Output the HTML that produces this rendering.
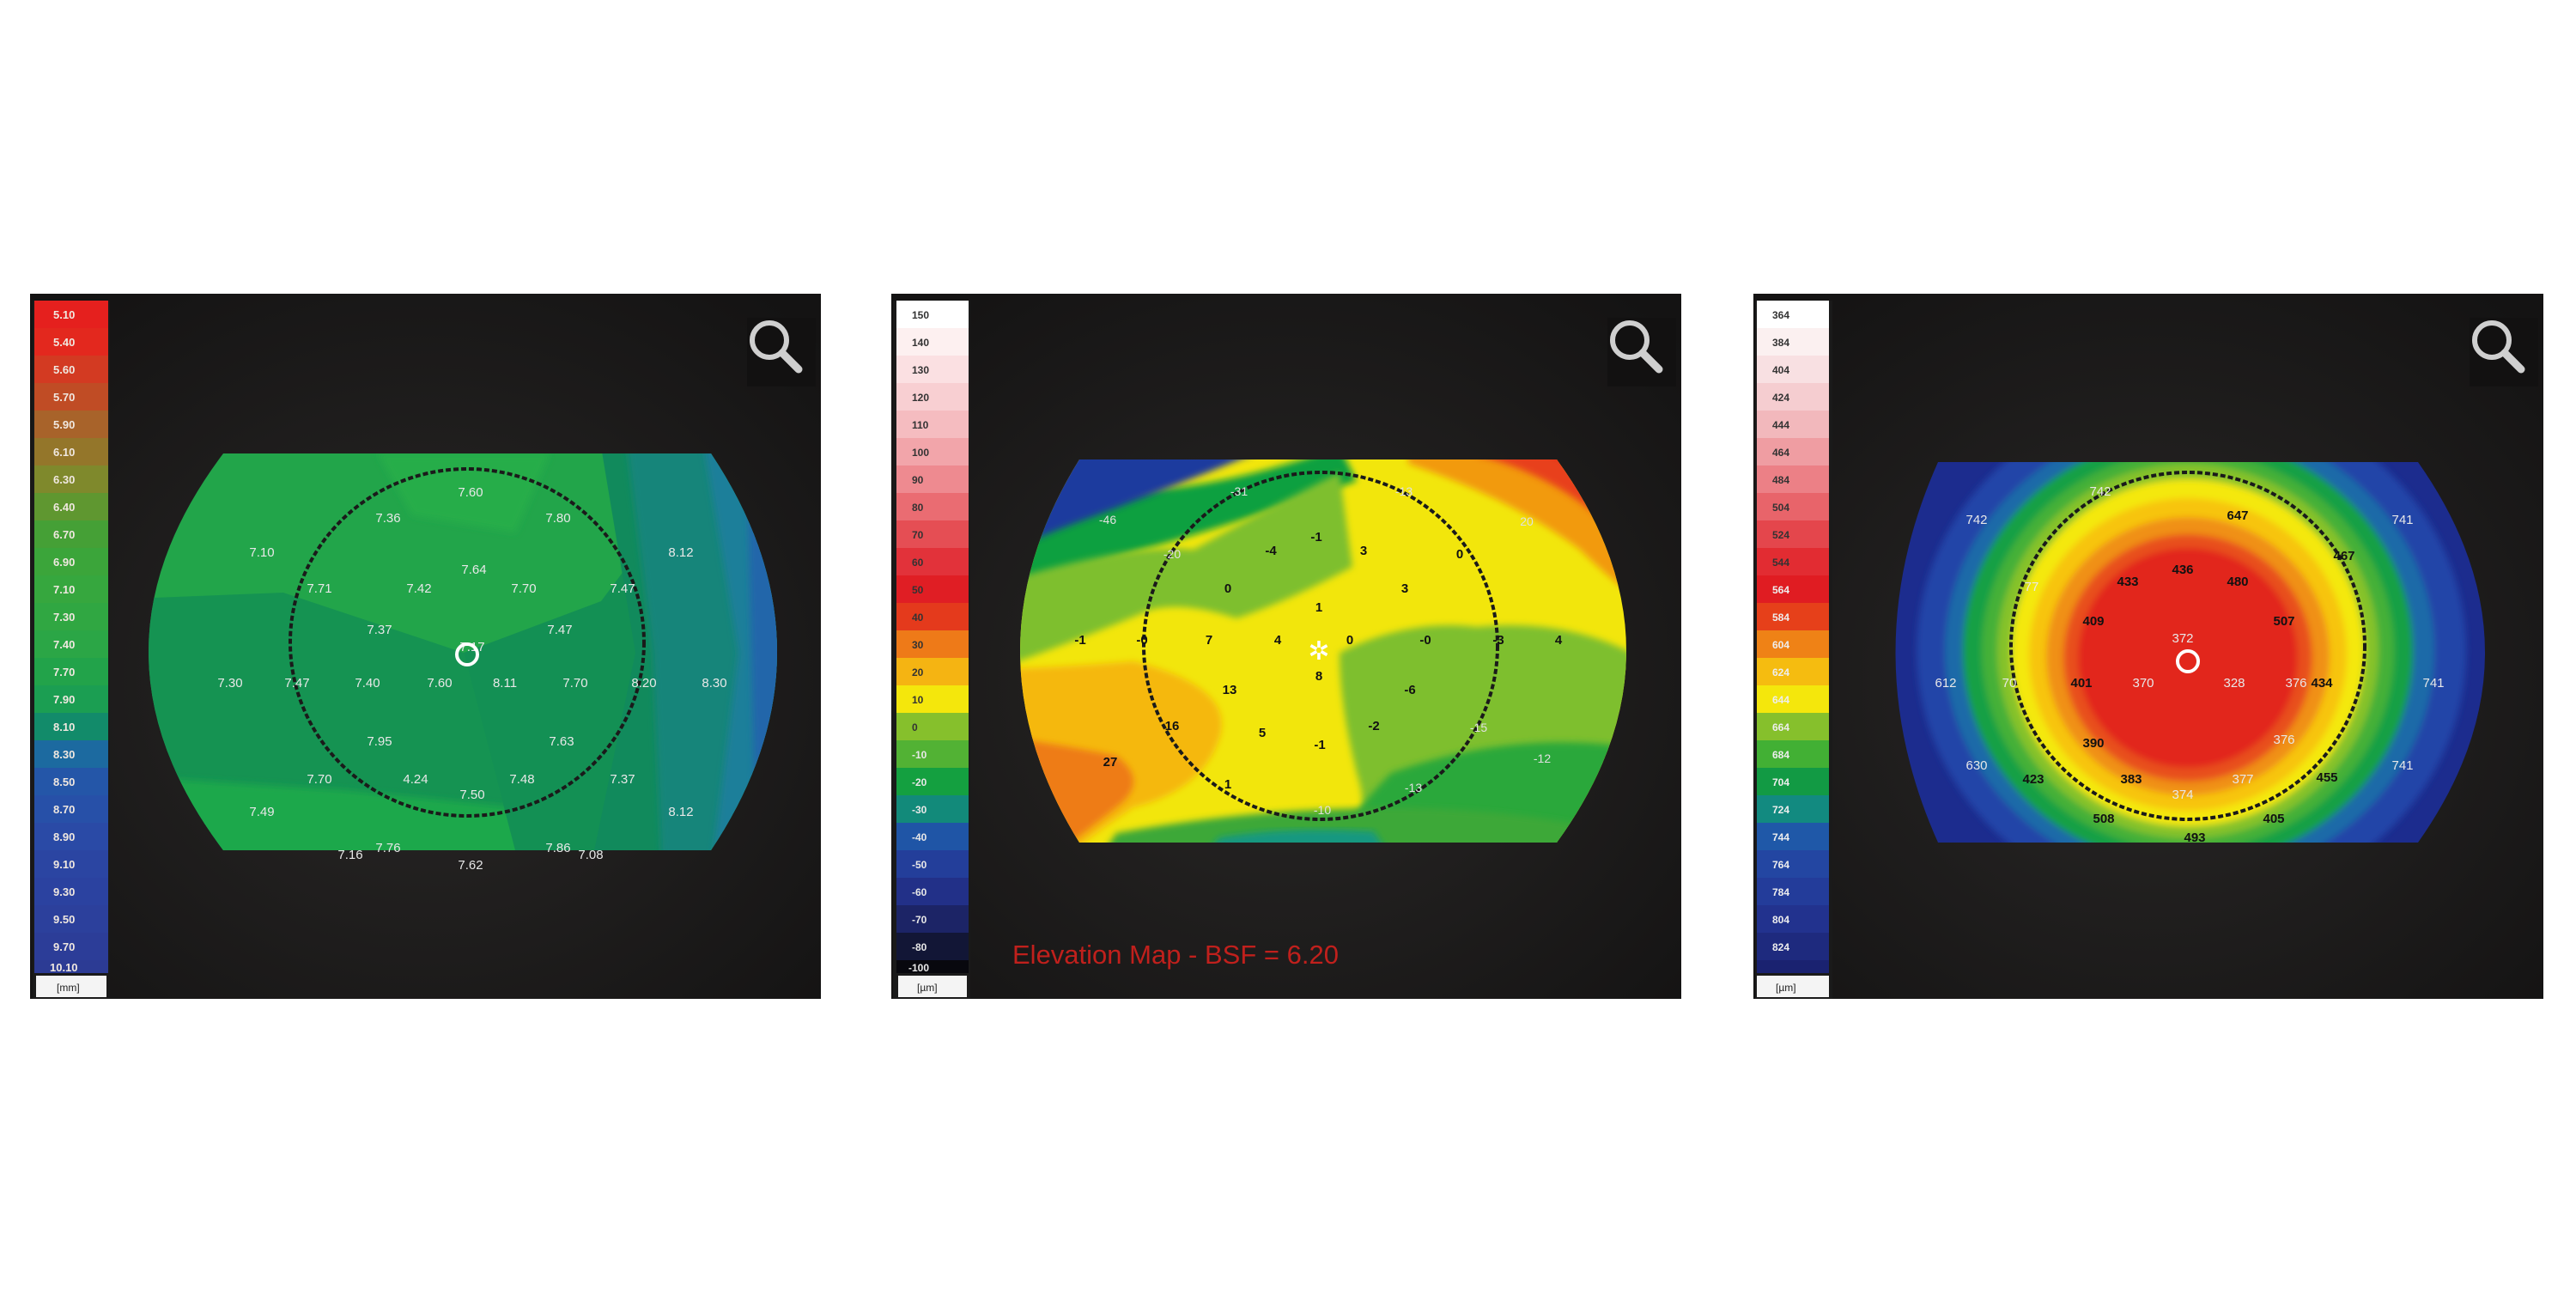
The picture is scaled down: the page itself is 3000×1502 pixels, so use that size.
<!DOCTYPE html>
<html><head><meta charset="utf-8"><style>html,body{margin:0;padding:0;background:#fff}svg{display:block}</style></head><body>
<svg width="3000" height="1502" viewBox="0 0 3000 1502" xmlns="http://www.w3.org/2000/svg" font-family="Liberation Sans, sans-serif">
<defs>
<radialGradient id="bg" cx="50%" cy="55%" r="70%"><stop offset="0" stop-color="#2a2827"/><stop offset="1" stop-color="#141313"/></radialGradient>
<clipPath id="m1"><path d="M260,528 L828,528 Q982,759 828,990 L260,990 Q86,759 260,528 Z"/></clipPath>
<clipPath id="m2"><path d="M1257,535 L1813,535 Q1975,758 1813,981 L1257,981 Q1119,758 1257,535 Z"/></clipPath>
<clipPath id="m3"><path d="M2257,538 L2816,538 Q2972,760 2816,981 L2257,981 Q2158,760 2257,538 Z"/></clipPath>
<filter id="bl"><feGaussianBlur stdDeviation="10"/></filter>
<filter id="bl2"><feGaussianBlur stdDeviation="4"/></filter>
<g id="mag"><circle cx="-8" cy="-8" r="20" fill="none" stroke="#cfcfcf" stroke-width="6"/><line x1="7" y1="7" x2="26" y2="26" stroke="#cfcfcf" stroke-width="9" stroke-linecap="round"/></g>
</defs>

<!-- Panel 1 -->
<rect x="35" y="342" width="921" height="821" fill="url(#bg)"/>
<g clip-path="url(#m1)">
<rect x="80" y="520" width="920" height="480" fill="#22a54a"/>
<path d="M80,700 L330,690 L540,760 L600,990 L80,1000 Z" fill="#159352"/>
<path d="M80,900 L400,920 L600,940 L620,1000 L80,1000Z" fill="#1ea84b" filter="url(#bl2)"/>
<path d="M540,760 L700,700 L760,620 L720,990 L600,990 Z" fill="#139054"/>
<path d="M700,520 L900,520 L900,1000 L690,1000 L740,760 Z" fill="#118a5c"/>
<path d="M730,520 L1000,520 L1000,1000 L770,1000 L760,760 Z" fill="#13857a" filter="url(#bl2)"/>
<path d="M820,520 L1000,520 L1000,1000 L830,1000 L860,760 Z" fill="#1a7f9a" filter="url(#bl2)"/>
<path d="M870,520 L1000,520 L1000,1000 L880,1000 Z" fill="#2266aa" filter="url(#bl2)"/>
<path d="M440,528 L640,528 L600,620 L480,600 Z" fill="#27ad4a" filter="url(#bl2)"/>
</g>
<ellipse cx="544" cy="748" rx="206" ry="202" fill="none" stroke="#1a1a1a" stroke-width="4" stroke-dasharray="6,3"/>
<g fill="#e8e8e8" font-size="15" text-anchor="middle">
<text x="548" y="578">7.60</text><text x="452" y="608">7.36</text><text x="650" y="608">7.80</text>
<text x="305" y="648">7.10</text><text x="793" y="648">8.12</text>
<text x="552" y="668">7.64</text><text x="372" y="690">7.71</text><text x="488" y="690">7.42</text><text x="610" y="690">7.70</text><text x="725" y="690">7.47</text>
<text x="442" y="738">7.37</text><text x="652" y="738">7.47</text><text x="550" y="758">7.17</text>
<text x="268" y="800">7.30</text><text x="346" y="800">7.47</text><text x="428" y="800">7.40</text><text x="512" y="800">7.60</text><text x="588" y="800">8.11</text><text x="670" y="800">7.70</text><text x="750" y="800">8.20</text><text x="832" y="800">8.30</text>
<text x="442" y="868">7.95</text><text x="654" y="868">7.63</text>
<text x="372" y="912">7.70</text><text x="484" y="912">4.24</text><text x="608" y="912">7.48</text><text x="725" y="912">7.37</text><text x="550" y="930">7.50</text>
<text x="305" y="950">7.49</text><text x="793" y="950">8.12</text>
<text x="452" y="992">7.76</text><text x="650" y="992">7.86</text><text x="548" y="1012">7.62</text>
<text x="408" y="1000">7.16</text><text x="688" y="1000">7.08</text>
</g>
<circle cx="544" cy="762" r="12" fill="none" stroke="#fff" stroke-width="4"/>
<rect x="38" y="350" width="90" height="813" fill="#1a1a1a"/>
<g id="cb1">
<rect x="40" y="350" width="86" height="32" fill="#e5201e"/><rect x="40" y="382" width="86" height="32" fill="#e3281e"/><rect x="40" y="414" width="86" height="32" fill="#d33a22"/><rect x="40" y="446" width="86" height="32" fill="#c04c25"/><rect x="40" y="478" width="86" height="32" fill="#a8632a"/><rect x="40" y="510" width="86" height="32" fill="#94762a"/><rect x="40" y="542" width="86" height="32" fill="#7f892c"/><rect x="40" y="574" width="86" height="32" fill="#5f9730"/><rect x="40" y="606" width="86" height="32" fill="#45a036"/><rect x="40" y="638" width="86" height="32" fill="#3ba53a"/><rect x="40" y="670" width="86" height="32" fill="#36a73e"/><rect x="40" y="702" width="86" height="32" fill="#30a742"/><rect x="40" y="734" width="86" height="32" fill="#2ba646"/><rect x="40" y="766" width="86" height="32" fill="#22a34a"/><rect x="40" y="798" width="86" height="32" fill="#1b9e52"/><rect x="40" y="830" width="86" height="32" fill="#128b6a"/><rect x="40" y="862" width="86" height="32" fill="#1c6aa0"/><rect x="40" y="894" width="86" height="32" fill="#2456a8"/><rect x="40" y="926" width="86" height="32" fill="#2750a8"/><rect x="40" y="958" width="86" height="32" fill="#2a4aa6"/><rect x="40" y="990" width="86" height="32" fill="#2b45a2"/><rect x="40" y="1022" width="86" height="32" fill="#2b42a0"/><rect x="40" y="1054" width="86" height="32" fill="#2c409c"/><rect x="40" y="1086" width="86" height="32" fill="#2c3d98"/><rect x="40" y="1118" width="86" height="15" fill="#2c3b94"/>
<rect x="42" y="1136" width="82" height="25" fill="#f4f4f4"/>
</g>
<g fill="#f0e8e0" font-size="13" font-weight="bold">
<text x="62" y="371">5.10</text><text x="62" y="403">5.40</text><text x="62" y="435">5.60</text><text x="62" y="467">5.70</text><text x="62" y="499">5.90</text><text x="62" y="531">6.10</text><text x="62" y="563">6.30</text><text x="62" y="595">6.40</text><text x="62" y="627">6.70</text><text x="62" y="659">6.90</text><text x="62" y="691">7.10</text><text x="62" y="723">7.30</text><text x="62" y="755">7.40</text><text x="62" y="787">7.70</text><text x="62" y="819">7.90</text><text x="62" y="851">8.10</text><text x="62" y="883">8.30</text><text x="62" y="915">8.50</text><text x="62" y="947">8.70</text><text x="62" y="979">8.90</text><text x="62" y="1011">9.10</text><text x="62" y="1043">9.30</text><text x="62" y="1075">9.50</text><text x="62" y="1107">9.70</text><text x="58" y="1131">10.10</text>
</g>
<text x="66" y="1154" font-size="12" fill="#222">[mm]</text>
<rect x="870" y="370" width="80" height="80" fill="#121111"/>
<use href="#mag" x="904" y="404"/>

<!-- Panel 2 -->
<rect x="1038" y="342" width="920" height="821" fill="url(#bg)"/>
<g clip-path="url(#m2)">
<rect x="1100" y="520" width="900" height="480" fill="#f2e60c"/>
<path d="M1100,620 Q1260,580 1350,570 Q1450,560 1560,520 L1580,560 Q1440,610 1330,640 Q1200,680 1100,740 Z" fill="#0aa040" filter="url(#bl2)"/>
<path d="M1100,520 L1480,520 Q1360,570 1250,610 Q1170,640 1100,680 Z" fill="#1e3a9e" filter="url(#bl2)"/>
<path d="M1100,700 Q1300,630 1390,640 Q1480,590 1560,550 L1575,660 Q1500,700 1440,720 Q1380,700 1340,710 Q1220,760 1100,800 Z" fill="#7ebf2e" filter="url(#bl2)"/>
<path d="M1640,520 L2000,520 L2000,760 Q1900,700 1840,640 Q1760,580 1640,540 Z" fill="#f29a10" filter="url(#bl2)"/>
<path d="M1720,520 L2000,520 L2000,720 Q1920,650 1860,600 Q1800,550 1720,530 Z" fill="#e8401a" filter="url(#bl2)"/>
<path d="M1790,520 L2000,520 L2000,680 Q1920,600 1850,550 Z" fill="#e0161c" filter="url(#bl2)"/>
<path d="M1890,530 L2000,530 L2000,600 Q1950,560 1890,540Z" fill="#f0b0b6" filter="url(#bl2)"/>
<path d="M1560,760 Q1640,720 1720,730 Q1820,720 1900,760 L2000,820 L2000,1000 L1560,1000 Q1600,960 1580,900 Q1560,820 1560,760 Z" fill="#7ebf2e" filter="url(#bl2)"/>
<path d="M1620,900 Q1760,850 1900,870 L2000,900 L2000,1000 L1560,1000 Q1560,960 1620,900Z" fill="#2aa83a" filter="url(#bl2)"/>
<path d="M1860,930 L2000,900 L2000,1000 L1880,1000Z" fill="#f2e60c" filter="url(#bl2)"/>
<path d="M1100,780 Q1200,780 1320,770 Q1440,800 1420,860 Q1400,920 1320,940 Q1260,980 1240,1000 L1100,1000 Z" fill="#f5b80e" filter="url(#bl2)"/>
<path d="M1100,850 Q1200,860 1300,880 Q1340,910 1300,940 Q1250,980 1220,1000 L1100,1000 Z" fill="#ee7b18" filter="url(#bl2)"/>
<path d="M1100,880 Q1170,900 1210,930 Q1240,960 1230,1000 L1100,1000 Z" fill="#e0241c" filter="url(#bl2)"/>
<path d="M1300,970 Q1440,945 1560,942 Q1700,935 1840,960 L1880,1000 L1280,1000 Z" fill="#3da838" filter="url(#bl2)"/>
<path d="M1420,975 Q1500,962 1600,968 L1620,1000 L1400,1000Z" fill="#129880" filter="url(#bl2)"/>
</g>
<ellipse cx="1538" cy="752" rx="206" ry="202" fill="none" stroke="#1a1a1a" stroke-width="4" stroke-dasharray="6,3"/>
<g fill="#111" font-size="15" font-weight="bold" text-anchor="middle">
<text x="1480" y="646">-4</text><text x="1533" y="630">-1</text><text x="1588" y="646">3</text><text x="1700" y="650">0</text>
<text x="1430" y="690">0</text><text x="1636" y="690">3</text><text x="1536" y="712">1</text>
<text x="1258" y="750">-1</text><text x="1330" y="750">-0</text><text x="1408" y="750">7</text><text x="1488" y="750">4</text><text x="1572" y="750">0</text><text x="1660" y="750">-0</text><text x="1745" y="750">-3</text><text x="1815" y="750">4</text>
<text x="1432" y="808">13</text><text x="1642" y="808">-6</text><text x="1536" y="792">8</text>
<text x="1365" y="850">16</text><text x="1470" y="858">5</text><text x="1537" y="872">-1</text><text x="1600" y="850">-2</text>
<text x="1293" y="892">27</text><text x="1430" y="918">1</text>
</g>
<g fill="#e0e0e0" font-size="14" text-anchor="middle">
<text x="1443" y="577">-31</text><text x="1635" y="577">-13</text><text x="1290" y="610">-46</text><text x="1778" y="612">20</text><text x="1365" y="650">-20</text><text x="1722" y="852">-15</text><text x="1796" y="888">-12</text><text x="1646" y="922">-13</text><text x="1540" y="948">-10</text>
</g>
<text x="1536" y="768" font-size="30" fill="#fff" text-anchor="middle">✲</text>
<text x="1179" y="1122" font-size="31" fill="#c0201c">Elevation Map - BSF = 6.20</text>
<rect x="1040" y="350" width="90" height="813" fill="#1a1a1a"/>
<g>
<rect x="1044" y="350" width="84" height="32" fill="#ffffff"/><rect x="1044" y="382" width="84" height="32" fill="#fdf0f0"/><rect x="1044" y="414" width="84" height="32" fill="#fbe0e2"/><rect x="1044" y="446" width="84" height="32" fill="#f8cfd2"/><rect x="1044" y="478" width="84" height="32" fill="#f5bcc0"/><rect x="1044" y="510" width="84" height="32" fill="#f2a5aa"/><rect x="1044" y="542" width="84" height="32" fill="#ee8a90"/><rect x="1044" y="574" width="84" height="32" fill="#ea6c72"/><rect x="1044" y="606" width="84" height="32" fill="#e54e54"/><rect x="1044" y="638" width="84" height="32" fill="#e2323a"/><rect x="1044" y="670" width="84" height="32" fill="#e01e24"/><rect x="1044" y="702" width="84" height="32" fill="#e43a1c"/><rect x="1044" y="734" width="84" height="32" fill="#ee7a18"/><rect x="1044" y="766" width="84" height="32" fill="#f5b412"/><rect x="1044" y="798" width="84" height="32" fill="#f4e70c"/><rect x="1044" y="830" width="84" height="32" fill="#86c02c"/><rect x="1044" y="862" width="84" height="32" fill="#52b234"/><rect x="1044" y="894" width="84" height="32" fill="#14a040"/><rect x="1044" y="926" width="84" height="32" fill="#128a7a"/><rect x="1044" y="958" width="84" height="32" fill="#1f55a6"/><rect x="1044" y="990" width="84" height="32" fill="#233e9a"/><rect x="1044" y="1022" width="84" height="32" fill="#223088"/><rect x="1044" y="1054" width="84" height="32" fill="#1c2466"/><rect x="1044" y="1086" width="84" height="32" fill="#121636"/><rect x="1044" y="1118" width="84" height="15" fill="#08080e"/>
<rect x="1046" y="1136" width="80" height="25" fill="#f4f4f4"/>
</g>
<g fill="#333" font-size="12" font-weight="bold">
<text x="1062" y="371">150</text><text x="1062" y="403">140</text><text x="1062" y="435">130</text><text x="1062" y="467">120</text><text x="1062" y="499">110</text><text x="1062" y="531">100</text><text x="1062" y="563">90</text><text x="1062" y="595">80</text><text x="1062" y="627">70</text><text x="1062" y="659">60</text><text x="1062" y="691">50</text><text x="1062" y="723">40</text><text x="1062" y="755">30</text><text x="1062" y="787">20</text><text x="1062" y="819">10</text><text x="1062" y="851">0</text>
</g>
<g fill="#e8e8e8" font-size="12" font-weight="bold">
<text x="1062" y="883">-10</text><text x="1062" y="915">-20</text><text x="1062" y="947">-30</text><text x="1062" y="979">-40</text><text x="1062" y="1011">-50</text><text x="1062" y="1043">-60</text><text x="1062" y="1075">-70</text><text x="1062" y="1107">-80</text><text x="1058" y="1131">-100</text>
</g>
<text x="1068" y="1154" font-size="12" fill="#222">[µm]</text>
<rect x="1872" y="370" width="80" height="80" fill="#121111"/>
<use href="#mag" x="1906" y="404"/>

<!-- Panel 3 -->
<rect x="2042" y="342" width="920" height="821" fill="url(#bg)"/>
<g clip-path="url(#m3)">
<rect x="2150" y="520" width="830" height="480" fill="#1c2c8e"/>
<g filter="url(#bl2)">
<ellipse cx="2552" cy="758" rx="320" ry="300" fill="#2344a8"/>
<ellipse cx="2550" cy="758" rx="285" ry="268" fill="#1a6aa8"/>
<ellipse cx="2548" cy="758" rx="262" ry="250" fill="#14a044"/>
<ellipse cx="2548" cy="758" rx="240" ry="232" fill="#44b038"/>
<ellipse cx="2548" cy="758" rx="222" ry="218" fill="#86c22c"/>
<ellipse cx="2548" cy="760" rx="205" ry="202" fill="#f4e80c"/>
<ellipse cx="2548" cy="762" rx="185" ry="182" fill="#f7c410"/>
<ellipse cx="2548" cy="764" rx="165" ry="162" fill="#f09014"/>
<ellipse cx="2548" cy="766" rx="145" ry="144" fill="#e8501a"/>
<ellipse cx="2548" cy="766" rx="128" ry="128" fill="#e2261e"/>
</g>
</g>
<ellipse cx="2548" cy="752" rx="206" ry="202" fill="none" stroke="#1a1a1a" stroke-width="4" stroke-dasharray="6,3"/>
<g fill="#111" font-size="15" font-weight="bold" text-anchor="middle">
<text x="2606" y="605">647</text><text x="2542" y="668">436</text><text x="2478" y="682">433</text><text x="2606" y="682">480</text><text x="2730" y="652">467</text>
<text x="2438" y="728">409</text><text x="2660" y="728">507</text><text x="2424" y="800">401</text><text x="2704" y="800">434</text>
<text x="2438" y="870">390</text><text x="2482" y="912">383</text><text x="2368" y="912">423</text><text x="2710" y="910">455</text><text x="2450" y="958">508</text><text x="2648" y="958">405</text><text x="2556" y="980">493</text>
</g>
<g fill="#e8e8e8" font-size="15" text-anchor="middle">
<text x="2446" y="577">742</text><text x="2302" y="610">742</text><text x="2798" y="610">741</text><text x="2366" y="688">77</text>
<text x="2266" y="800">612</text><text x="2340" y="800">70</text><text x="2496" y="800">370</text><text x="2602" y="800">328</text><text x="2674" y="800">376</text><text x="2834" y="800">741</text>
<text x="2542" y="748">372</text><text x="2660" y="866">376</text><text x="2612" y="912">377</text><text x="2542" y="930">374</text>
<text x="2302" y="896">630</text><text x="2798" y="896">741</text>
</g>
<circle cx="2548" cy="770" r="12" fill="none" stroke="#fff" stroke-width="4"/>
<rect x="2044" y="350" width="90" height="813" fill="#1a1a1a"/>
<g>
<rect x="2046" y="350" width="84" height="32" fill="#ffffff"/><rect x="2046" y="382" width="84" height="32" fill="#fbf0f0"/><rect x="2046" y="414" width="84" height="32" fill="#f8e0e2"/><rect x="2046" y="446" width="84" height="32" fill="#f5cdd0"/><rect x="2046" y="478" width="84" height="32" fill="#f2b8bc"/><rect x="2046" y="510" width="84" height="32" fill="#ef9da2"/><rect x="2046" y="542" width="84" height="32" fill="#ec8086"/><rect x="2046" y="574" width="84" height="32" fill="#e8646a"/><rect x="2046" y="606" width="84" height="32" fill="#e4464c"/><rect x="2046" y="638" width="84" height="32" fill="#e22c32"/><rect x="2046" y="670" width="84" height="32" fill="#e01c22"/><rect x="2046" y="702" width="84" height="32" fill="#e6401a"/><rect x="2046" y="734" width="84" height="32" fill="#ef8216"/><rect x="2046" y="766" width="84" height="32" fill="#f5bc10"/><rect x="2046" y="798" width="84" height="32" fill="#f4e70c"/><rect x="2046" y="830" width="84" height="32" fill="#86c02c"/><rect x="2046" y="862" width="84" height="32" fill="#42b034"/><rect x="2046" y="894" width="84" height="32" fill="#129a44"/><rect x="2046" y="926" width="84" height="32" fill="#128a80"/><rect x="2046" y="958" width="84" height="32" fill="#1f58a8"/><rect x="2046" y="990" width="84" height="32" fill="#2346a2"/><rect x="2046" y="1022" width="84" height="32" fill="#233c9a"/><rect x="2046" y="1054" width="84" height="32" fill="#22328e"/><rect x="2046" y="1086" width="84" height="32" fill="#1e2a7e"/><rect x="2046" y="1118" width="84" height="15" fill="#1a2270"/>
<rect x="2046" y="1136" width="84" height="25" fill="#f4f4f4"/>
</g>
<g fill="#333" font-size="12" font-weight="bold">
<text x="2064" y="371">364</text><text x="2064" y="403">384</text><text x="2064" y="435">404</text><text x="2064" y="467">424</text><text x="2064" y="499">444</text><text x="2064" y="531">464</text><text x="2064" y="563">484</text><text x="2064" y="595">504</text><text x="2064" y="627">524</text><text x="2064" y="659">544</text>
</g>
<g fill="#eee" font-size="12" font-weight="bold">
<text x="2064" y="691">564</text><text x="2064" y="723">584</text><text x="2064" y="755">604</text><text x="2064" y="787">624</text><text x="2064" y="819">644</text><text x="2064" y="851">664</text><text x="2064" y="883">684</text><text x="2064" y="915">704</text><text x="2064" y="947">724</text><text x="2064" y="979">744</text><text x="2064" y="1011">764</text><text x="2064" y="1043">784</text><text x="2064" y="1075">804</text><text x="2064" y="1107">824</text>
</g>
<text x="2068" y="1154" font-size="12" fill="#222">[µm]</text>
<rect x="2876" y="370" width="80" height="80" fill="#121111"/>
<use href="#mag" x="2910" y="404"/>
</svg>
</body></html>
